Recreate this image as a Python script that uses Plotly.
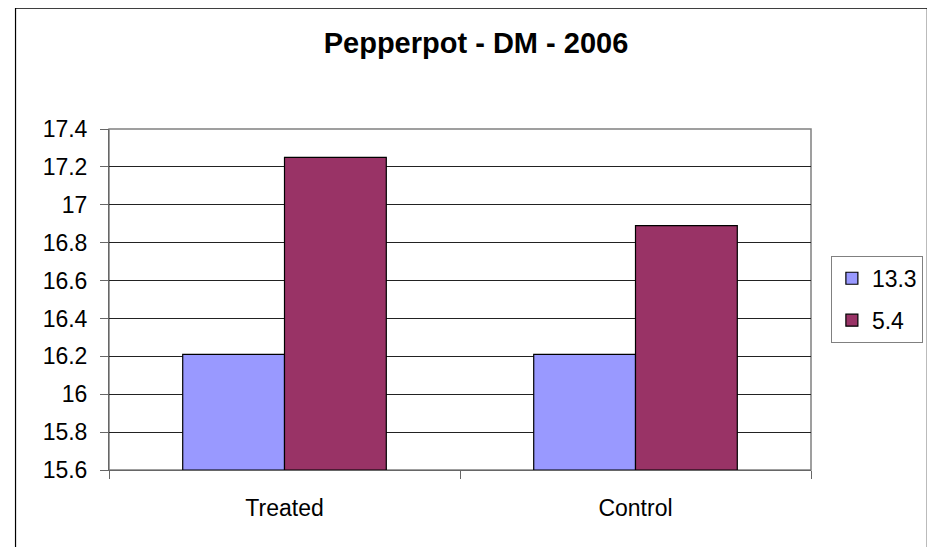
import plotly.graph_objects as go

categories = ["Treated", "Control"]
series_names = ["13.3", "5.4"]
values_13_3 = [16.21, 16.21]
values_5_4 = [17.25, 16.89]
colors = ["#9999FF", "#993366"]
y_min, y_max = 15.6, 17.4

# page offset (default body margin of the html page)
OFF = 8
W, H = 935 - OFF, 547 - OFF
# plot area in page pixels
L, R, T, B = 109, 815, 129, 470.5

fig = go.Figure()
for i, (name, vals, c) in enumerate(zip(series_names, [values_13_3, values_5_4], colors)):
    fig.add_trace(go.Bar(
        x=categories, y=[v - y_min for v in vals], base=[y_min] * len(vals),
        name=name, legendgroup="g%d" % i,
        marker=dict(color=c, line=dict(color="black", width=1.2)),
    ))

pw = R - L
ph = B - T
def px(x):
    return (x - L) / pw
def py(y):
    return (B - y) / ph

fig.update_layout(
    width=W, height=H,
    margin=dict(l=L - OFF, r=935 - R, t=T - OFF, b=547 - B, pad=0),
    paper_bgcolor="white", plot_bgcolor="white",
    font=dict(family="Liberation Sans, Arial", size=23, color="black"),
    barmode="group", bargap=0.42, bargroupgap=0,
    title=dict(text="<b>Pepperpot - DM - 2006</b>", x=(476 - OFF) / W, xanchor="center",
               y=1 - (43 - OFF) / H, yanchor="middle",
               font=dict(size=29, family="Liberation Sans, Arial")),
    xaxis=dict(type="category", tickson="boundaries", ticks="outside", ticklen=8, tickcolor="#666",
               showline=True, linecolor="#666", linewidth=1, showgrid=False,
               ticklabelstandoff=17, range=[-0.5, 1.5]),
    yaxis=dict(range=[y_min, y_max], dtick=0.2, tick0=y_min, ticks="outside", ticklen=8, tickcolor="#666",
               showline=True, linecolor="#666", linewidth=1, showgrid=True, gridcolor="#222", gridwidth=1,
               ticklabelstandoff=8, zeroline=False),
    legend=dict(x=px(835), y=py(256), xanchor="left", yanchor="top", bordercolor="#808080", borderwidth=1,
                bgcolor="white", font=dict(size=23), tracegroupgap=9, traceorder="grouped", itemwidth=30),
    showlegend=True,
)

# plot area border (gray)
fig.add_shape(type="rect", xref="paper", yref="paper", x0=0, x1=1, y0=0, y1=1,
              line=dict(color="#808080", width=1.5), layer="below")
# outer chart border
fig.add_shape(type="rect", xref="paper", yref="paper", x0=px(15), x1=px(932), y0=py(570), y1=py(8),
              line=dict(color="black", width=1.2))

fig.write_html("out.html")
